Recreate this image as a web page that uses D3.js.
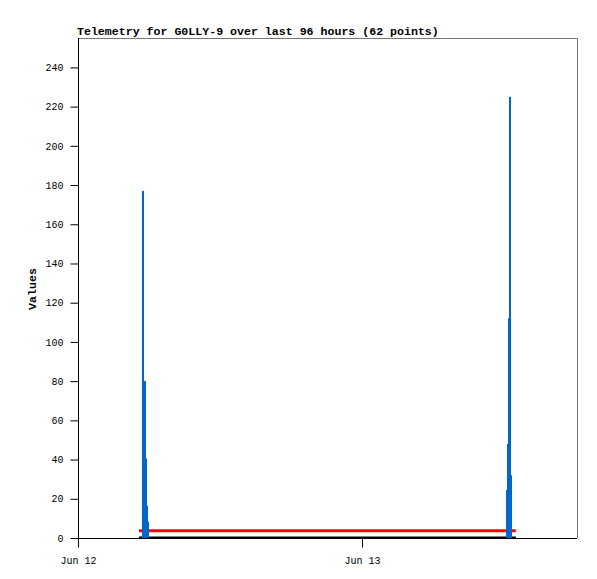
<!DOCTYPE html>
<html>
<head>
<meta charset="utf-8">
<script src="https://cdn.jsdelivr.net/npm/d3@7"></script>
<style>
  body { margin: 0; background: #fff; }
  svg text { font-family: "Liberation Mono", "DejaVu Sans Mono", monospace; }
</style>
</head>
<body>
<div id="chart"></div>
<script>
// Blue impulses (two bursts)
const spikeTimes = [
    "2025-06-12T05:30", "2025-06-12T05:40", "2025-06-12T05:45", "2025-06-12T05:50", "2025-06-12T05:55",
    "2025-06-13T12:13", "2025-06-13T12:18", "2025-06-13T12:23", "2025-06-13T12:28", "2025-06-13T12:35"
];
const spikeValues = [177, 80, 40.5, 16.5, 8.3, 24.5, 48, 112, 225, 32];

// Red and black line series
const lineTimes = [
    "2025-06-12T05:09", "2025-06-12T08:00", "2025-06-12T12:00", "2025-06-12T16:00", "2025-06-12T20:00",
    "2025-06-13T00:00", "2025-06-13T04:00", "2025-06-13T08:00", "2025-06-13T13:00"
];
const redValues = [3.7, 3.7, 3.7, 3.7, 3.7, 3.7, 3.7, 3.7, 3.7];
const blackValues = [0, 0, 0, 0, 0, 0, 0, 0, 0];

const yTicks = [0, 20, 40, 60, 80, 100, 120, 140, 160, 180, 200, 220, 240];
const xTicks = ["2025-06-12T00:00", "2025-06-13T00:00"];

const parse = d3.utcParse("%Y-%m-%dT%H:%M");

// Plot area
const plotL = 78, plotR = 577, plotT = 38, plotB = 538;

const svg = d3.select("#chart")
    .append("svg")
    .attr("width", 597)
    .attr("height", 579);

const x = d3.scaleUtc()
    .domain([parse("2025-06-12T00:00"), parse("2025-06-13T18:10")])
    .range([plotL, plotR]);

const y = d3.scaleLinear()
    .domain([0, 255])
    .range([plotB, plotT]);

// Frame: top and right in grey
svg.append("path")
    .attr("d", `M${plotL},${plotT + 0.5}H${plotR + 0.5}V${plotB}`)
    .attr("fill", "none")
    .attr("stroke", "#777")
    .attr("stroke-width", 1);

// Red line
const valueLine = d3.line()
    .x((d, i) => x(parse(lineTimes[i])))
    .y(d => y(d));

svg.append("path")
    .datum(redValues)
    .attr("d", valueLine)
    .attr("fill", "none")
    .attr("stroke", "#ff0000")
    .attr("stroke-width", 3);

// Black line
svg.append("path")
    .datum(blackValues)
    .attr("d", valueLine)
    .attr("fill", "none")
    .attr("stroke", "#000")
    .attr("stroke-width", 2)
    .attr("transform", "translate(0,-0.5)");

// Blue impulses
svg.selectAll(".spike")
    .data(spikeValues)
    .enter()
    .append("rect")
    .attr("class", "spike")
    .attr("x", (d, i) => Math.round(x(parse(spikeTimes[i]))) - 1)
    .attr("y", d => y(d))
    .attr("width", 2)
    .attr("height", d => y(0) - y(d))
    .attr("fill", "#0066cc");

// Y axis
const yAxis = svg.append("g")
    .attr("transform", `translate(${plotL + 0.5},0)`)
    .call(d3.axisLeft(y).tickValues(yTicks).tickSize(8).tickPadding(7));
yAxis.select(".domain").attr("d", `M0,${plotT}V${plotB}`).attr("stroke", "#000");
yAxis.selectAll(".tick line").attr("stroke", "#000");
yAxis.selectAll("text")
    .style("font-size", "10px")
    .attr("fill", "#000");

// X axis
const xAxis = svg.append("g")
    .attr("transform", `translate(0,${plotB + 0.5})`)
    .call(d3.axisBottom(x).tickValues(xTicks.map(parse)).tickSize(9).tickPadding(9)
        .tickFormat(d3.utcFormat("%b %d")));
xAxis.select(".domain").attr("d", `M${plotL},0H${plotR}`).attr("stroke", "#000");
xAxis.selectAll(".tick line").attr("stroke", "#000");
xAxis.selectAll("text")
    .style("font-size", "10px")
    .attr("fill", "#000");

// Title
svg.append("text")
    .attr("x", 77)
    .attr("y", 35)
    .style("font-size", "11.6px")
    .style("font-weight", "bold")
    .text("Telemetry for G0LLY-9 over last 96 hours (62 points)");

// Y label
svg.append("text")
    .attr("transform", "translate(36,289) rotate(-90)")
    .attr("text-anchor", "middle")
    .style("font-size", "11.6px")
    .style("font-weight", "bold")
    .text("Values");
</script>
</body>
</html>
